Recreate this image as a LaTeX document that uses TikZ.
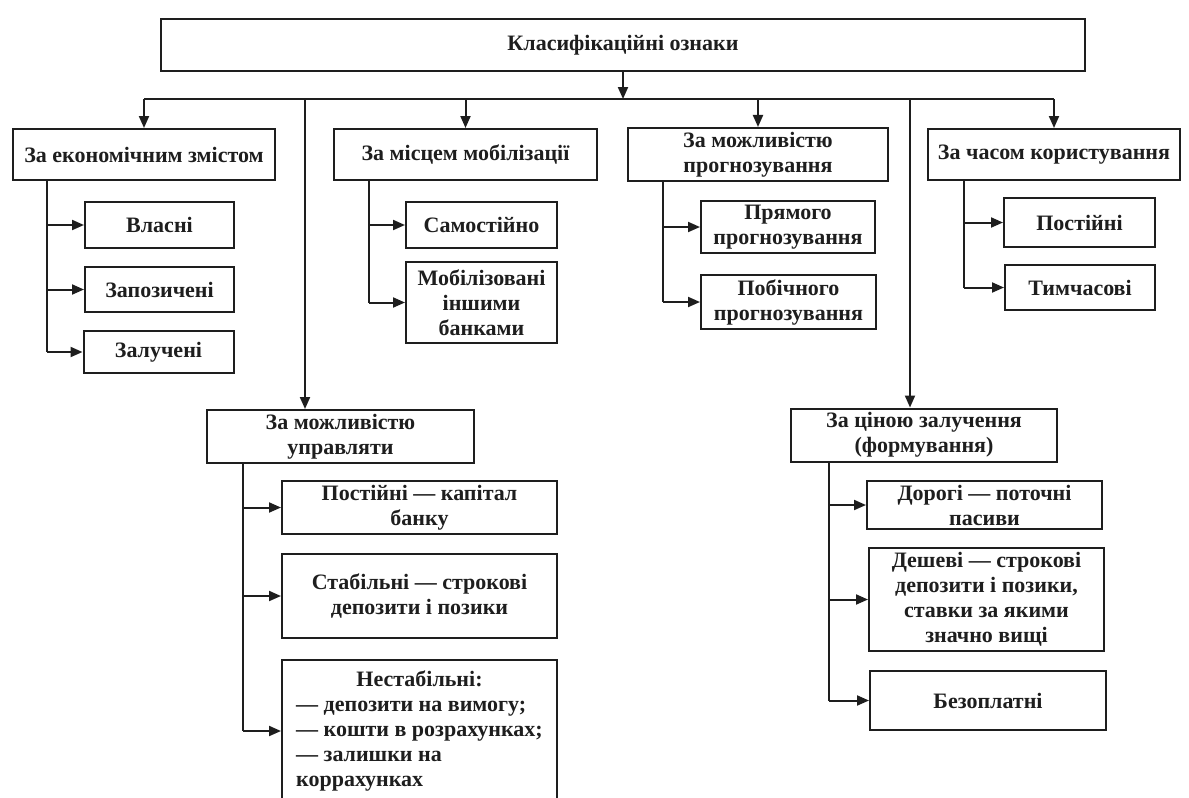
\documentclass[tikz,border=0pt]{standalone}
\usepackage{fontspec}
\setmainfont{Liberation Serif}
\usetikzlibrary{arrows.meta}
\definecolor{ink}{HTML}{1E1E1E}
\begin{document}
\begin{tikzpicture}[x=0.5pt,y=-0.5pt,
  box/.style={draw=ink, line width=1pt, inner sep=2pt, align=center,
    font=\bfseries\fontsize{11}{12.5}\selectfont, text=ink},
  ln/.style={draw=ink, line width=1pt},
  arr/.style={ln, -{Triangle[length=6pt,width=5pt]}}]
\clip (0,0) rectangle (1189,798);
\fill[white] (0,0) rectangle (1189,798);

% top
\node[box, minimum width=462pt, minimum height=26pt] (top) at (623,45) {Класифікаційні ознаки};

% level 1
\node[box, minimum width=131pt, minimum height=25.5pt] (B1) at (144,154.5) {За економічним змістом};
\node[box, minimum width=131.5pt, minimum height=25.5pt] (B2) at (465.5,154.5) {За місцем мобілізації};
\node[box, minimum width=130pt, minimum height=25.5pt] (B3) at (758,154.5) {За можливістю\\прогнозування};
\node[box, minimum width=126pt, minimum height=25.5pt] (B4) at (1054,154.5) {За часом користування};

% column 1
\node[box, minimum width=74.5pt, minimum height=23pt] (C1a) at (159.5,225) {Власні};
\node[box, minimum width=74.5pt, minimum height=22.5pt] (C1b) at (159.5,289.5) {Запозичені};
\node[box, minimum width=75pt, minimum height=21pt] (C1c) at (158.5,352) {Залучені};
% column 2
\node[box, minimum width=75.5pt, minimum height=23pt] (C2a) at (481.5,225) {Самостійно};
\node[box, minimum width=75.5pt, minimum height=40.5pt] (C2b) at (481.5,302.5) {Мобілізовані\\іншими\\банками};
% column 3
\node[box, minimum width=87pt, minimum height=26pt] (C3a) at (788,227) {Прямого\\прогнозування};
\node[box, minimum width=87.5pt, minimum height=27pt] (C3b) at (788.5,302) {Побічного\\прогнозування};
% column 4
\node[box, minimum width=75.5pt, minimum height=24.5pt] (C4a) at (1079.5,222.5) {Постійні};
\node[box, minimum width=75pt, minimum height=22.5pt] (C4b) at (1080,287.5) {Тимчасові};

% middle level
\node[box, minimum width=133.5pt, minimum height=25.5pt] (M1) at (340.5,436.5) {За можливістю\\управляти};
\node[box, minimum width=133pt, minimum height=26pt] (M2) at (924,435) {За ціною залучення\\(формування)};

% under M1
\node[box, minimum width=137.5pt, minimum height=24.5pt] (S1) at (419.5,507.5) {Постійні — капітал\\банку};
\node[box, minimum width=137.5pt, minimum height=42pt] (S2) at (419.5,596) {Стабільні — строкові\\депозити і позики};
\node[box, minimum width=137.5pt, minimum height=71pt] (S3) at (419.5,731)
  {\begin{tabular}{@{}l@{}}\multicolumn{1}{@{}c@{}}{Нестабільні:}\\
   — депозити на вимогу;\\ — кошти в розрахунках;\\ — залишки на\\ коррахунках\end{tabular}};

% under M2
\node[box, minimum width=117.5pt, minimum height=24pt] (D1) at (984.5,505) {Дорогі — поточні\\пасиви};
\node[box, minimum width=117.5pt, minimum height=51.5pt] (D2) at (986.5,599.5) {Дешеві — строкові\\депозити і позики,\\ставки за якими\\значно вищі};
\node[box, minimum width=118pt, minimum height=29.5pt] (D3) at (988,700.5) {Безоплатні};

% bus
\coordinate (busL) at (144,99);
\coordinate (busR) at (1054,99);
\coordinate (L1) at (305,99);
\coordinate (L2) at (910,99);
\draw[ln] (busL) -- (busR);
\draw[arr] (top.south) -- (top.south |- busL);
\draw[arr] (B1.north |- busL) -- (B1.north);
\draw[arr] (B2.north |- busL) -- (B2.north);
\draw[arr] (B3.north |- busL) -- (B3.north);
\draw[arr] (B4.north |- busL) -- (B4.north);
\draw[arr] (L1) -- (L1 |- M1.north);
\draw[arr] (L2) -- (L2 |- M2.north);

% column spines
\coordinate (k1) at (47,0);
\coordinate (k2) at (369,0);
\coordinate (k3) at (663,0);
\coordinate (k4) at (964,0);
\coordinate (k5) at (243,0);
\coordinate (k6) at (829,0);

\draw[ln] (B1.south -| k1) -- (k1 |- C1c.west);
\draw[arr] (k1 |- C1a.west) -- (C1a.west);
\draw[arr] (k1 |- C1b.west) -- (C1b.west);
\draw[arr] (k1 |- C1c.west) -- (C1c.west);

\draw[ln] (B2.south -| k2) -- (k2 |- C2b.west);
\draw[arr] (k2 |- C2a.west) -- (C2a.west);
\draw[arr] (k2 |- C2b.west) -- (C2b.west);

\draw[ln] (B3.south -| k3) -- (k3 |- C3b.west);
\draw[arr] (k3 |- C3a.west) -- (C3a.west);
\draw[arr] (k3 |- C3b.west) -- (C3b.west);

\draw[ln] (B4.south -| k4) -- (k4 |- C4b.west);
\draw[arr] (k4 |- C4a.west) -- (C4a.west);
\draw[arr] (k4 |- C4b.west) -- (C4b.west);

\draw[ln] (M1.south -| k5) -- (k5 |- S3.west);
\draw[arr] (k5 |- S1.west) -- (S1.west);
\draw[arr] (k5 |- S2.west) -- (S2.west);
\draw[arr] (k5 |- S3.west) -- (S3.west);

\draw[ln] (M2.south -| k6) -- (k6 |- D3.west);
\draw[arr] (k6 |- D1.west) -- (D1.west);
\draw[arr] (k6 |- D2.west) -- (D2.west);
\draw[arr] (k6 |- D3.west) -- (D3.west);
\end{tikzpicture}
\end{document}
